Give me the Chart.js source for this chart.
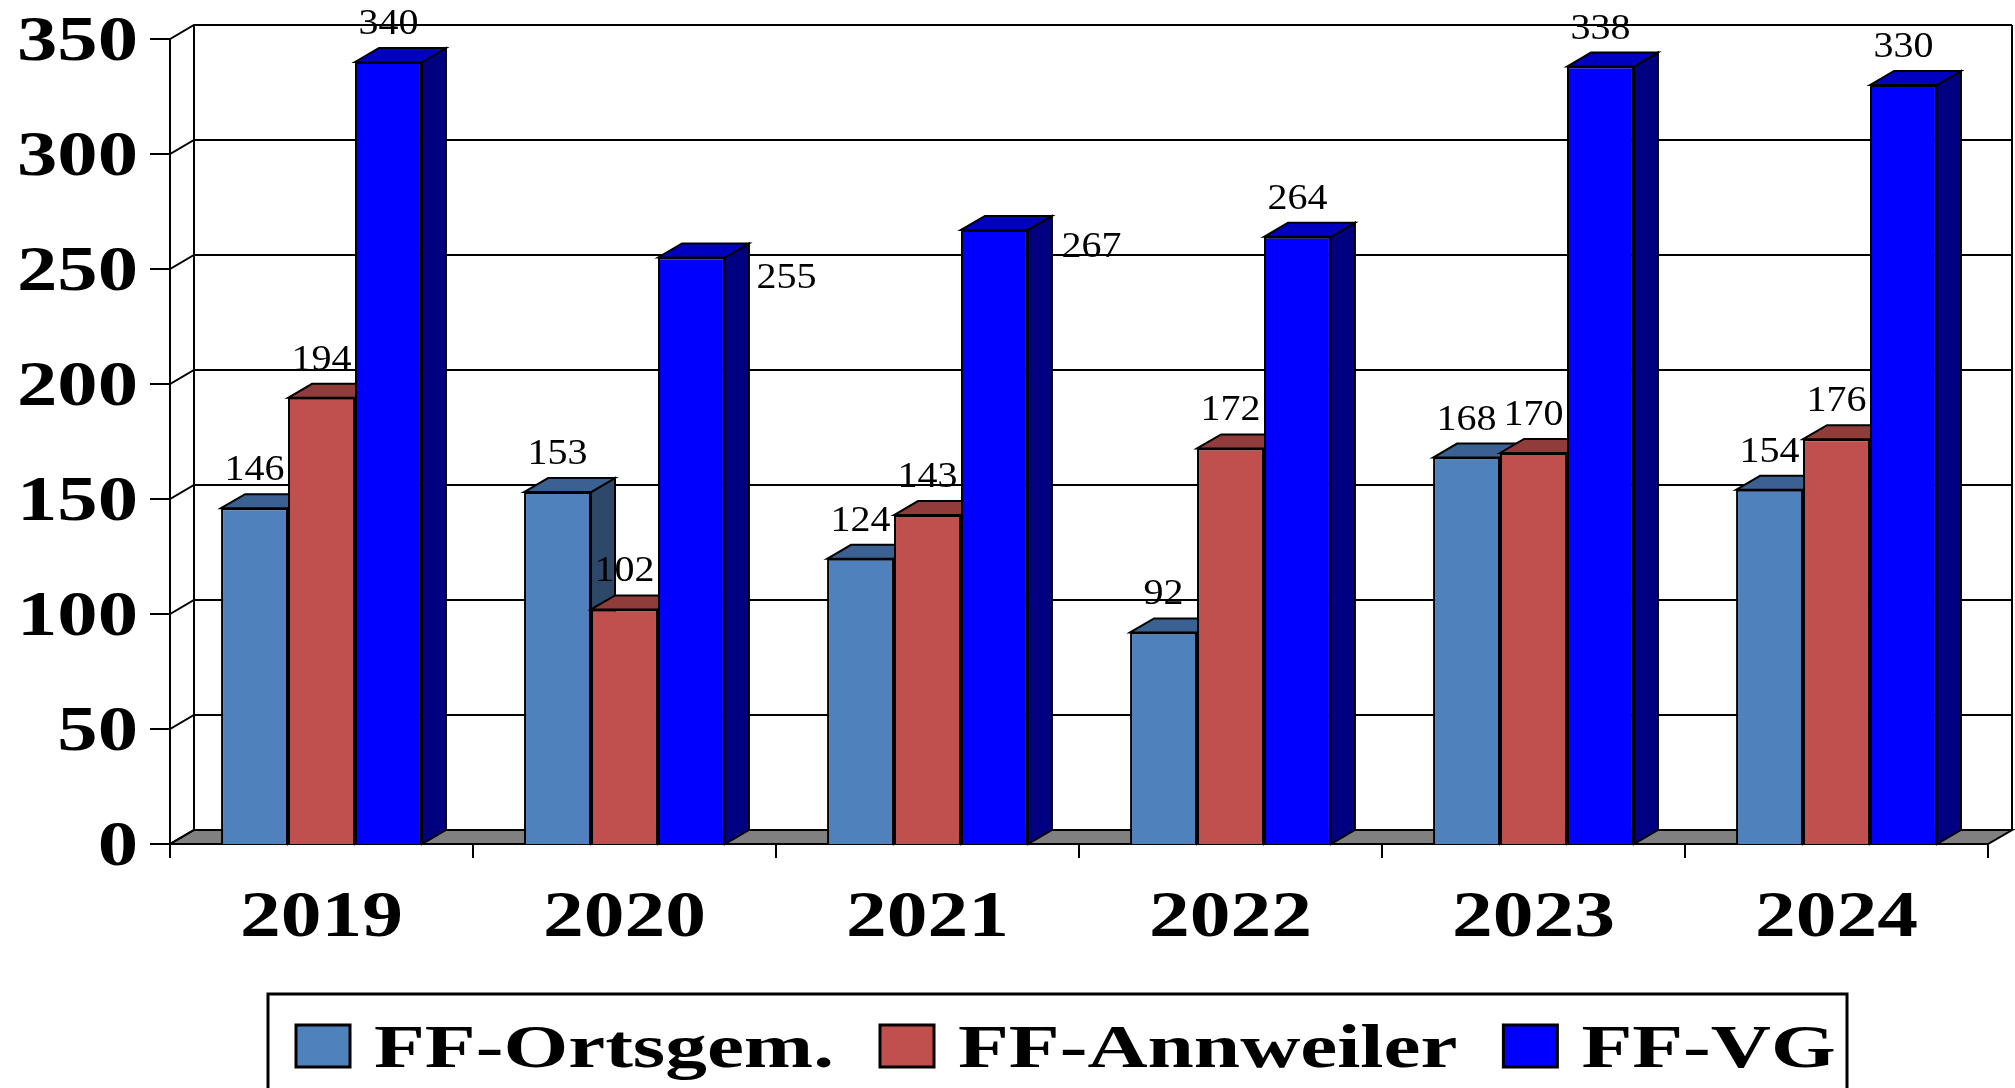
<!DOCTYPE html>
<html>
<head>
<meta charset="utf-8">
<script src="https://cdn.jsdelivr.net/npm/chart.js@4/dist/chart.umd.min.js"></script>
<style>
  body { margin: 0; background: #fff; }
  canvas { display: block; }
</style>
</head>
<body>
<canvas id="einsatzChart" width="2015" height="1088"></canvas>
<script>
// data
const years = ['2019', '2020', '2021', '2022', '2023', '2024'];
const ortsgemeinden = [146, 153, 124, 92, 168, 154];
const annweiler = [194, 102, 143, 172, 170, 176];
const verbandsgemeinde = [340, 255, 267, 264, 338, 330];
const yTicks = [0, 50, 100, 150, 200, 250, 300, 350];
const seriesNames = ['FF-Ortsgem.', 'FF-Annweiler', 'FF-VG'];

// depth of the fake 3d effect
const DEPTH_X = 24;
const DEPTH_Y = 14;

// pick a Times-like font that is really installed
function fontAvailable(name) {
    const c = document.createElement('canvas').getContext('2d');
    const probe = 'FF-Ortsgem. 0123456789';
    c.font = '40px monospace';
    const a = c.measureText(probe).width;
    c.font = '40px "' + name + '", monospace';
    const b = c.measureText(probe).width;
    return a !== b;
}
const serifCandidates = ['Liberation Serif', 'Times New Roman', 'Tinos', 'Nimbus Roman', 'FreeSerif', 'Noto Serif', 'DejaVu Serif'];
const serifName = serifCandidates.find(fontAvailable) || 'serif';
const FONT = '"' + serifName + '", serif';
// DejaVu has taller digits, shrink it a bit so the heights match
const SIZE = serifName.indexOf('DejaVu') === 0 || serifName.indexOf('Noto') === 0 ? 0.93 : 1;

// draw text stretched (or squeezed) to a given scale
function wideText(ctx, text, x, y, sx, align) {
    const w = ctx.measureText(text).width * sx;
    let left = x;
    if (align === 'right') left = x - w;
    if (align === 'center') left = x - w / 2;
    ctx.save();
    ctx.translate(left, y);
    ctx.scale(sx, 1);
    ctx.textAlign = 'left';
    ctx.fillText(text, 0, 0);
    ctx.restore();
    return w;
}

// horizontal scale that makes a sample string as wide as in the picture
function fitScale(ctx, sample, targetWidth) {
    return targetWidth / ctx.measureText(sample).width;
}

function poly(ctx, pts) {
    ctx.beginPath();
    ctx.moveTo(pts[0][0], pts[0][1]);
    pts.slice(1).forEach(p => ctx.lineTo(p[0], p[1]));
    ctx.closePath();
    ctx.fill();
    ctx.stroke();
}

// floor, walls, gridlines and axes
const wallsPlugin = {
    id: 'walls',
    beforeDatasetsDraw(chart) {
        const { ctx, chartArea: a, scales: { x, y } } = chart;
        ctx.save();
        ctx.strokeStyle = '#000';
        ctx.lineWidth = 2;

        // grey floor
        ctx.fillStyle = '#808080';
        poly(ctx, [[a.left, a.bottom], [a.right, a.bottom],
            [a.right + DEPTH_X, a.bottom - DEPTH_Y], [a.left + DEPTH_X, a.bottom - DEPTH_Y]]);

        // gridlines on back wall, diagonals on side wall, tick marks
        yTicks.forEach(v => {
            const py = y.getPixelForValue(v);
            ctx.beginPath();
            ctx.moveTo(a.left - 20, py);
            ctx.lineTo(a.left, py);
            ctx.lineTo(a.left + DEPTH_X, py - DEPTH_Y);
            ctx.lineTo(a.right + DEPTH_X, py - DEPTH_Y);
            ctx.stroke();
        });

        const top = y.getPixelForValue(yTicks[yTicks.length - 1]);
        ctx.beginPath();
        ctx.moveTo(a.left, top);
        ctx.lineTo(a.left, a.bottom);
        ctx.moveTo(a.left + DEPTH_X, top - DEPTH_Y);
        ctx.lineTo(a.left + DEPTH_X, a.bottom - DEPTH_Y);
        ctx.moveTo(a.right + DEPTH_X, top - DEPTH_Y);
        ctx.lineTo(a.right + DEPTH_X, a.bottom - DEPTH_Y);
        ctx.stroke();

        // category tick marks below the front edge
        const half = (x.getPixelForValue(1) - x.getPixelForValue(0)) / 2;
        ctx.beginPath();
        for (let i = 0; i <= years.length; i++) {
            const px = x.getPixelForValue(i) - half;
            ctx.moveTo(px, a.bottom);
            ctx.lineTo(px, a.bottom + 14);
        }
        ctx.moveTo(a.left, a.bottom);
        ctx.lineTo(a.right, a.bottom);
        ctx.stroke();
        ctx.restore();
    }
};

// bars with top and side faces, drawn left to right so they hide each other properly
const barsPlugin = {
    id: 'bars3d',
    beforeDatasetsDraw(chart, args, opts) {
        const ctx = chart.ctx;
        chart.data.datasets.forEach((ds, di) => {
            const meta = chart.getDatasetMeta(di);
            ctx.save();
            ctx.strokeStyle = '#000';
            ctx.lineWidth = 2;
            meta.data.forEach(bar => {
                const l = bar.x - bar.width / 2;
                const r = bar.x + bar.width / 2;
                ctx.fillStyle = ds.sideColor;
                poly(ctx, [[r, bar.y], [r + DEPTH_X, bar.y - DEPTH_Y],
                    [r + DEPTH_X, bar.base - DEPTH_Y], [r, bar.base]]);
                ctx.fillStyle = ds.topColor;
                poly(ctx, [[l, bar.y], [l + DEPTH_X, bar.y - DEPTH_Y],
                    [r + DEPTH_X, bar.y - DEPTH_Y], [r, bar.y]]);
            });
            ctx.restore();

            meta.data.forEach(bar => bar.draw(ctx, chart.chartArea));

            // value labels
            ctx.save();
            ctx.fillStyle = '#000';
            ctx.font = Math.round(35 * SIZE) + 'px ' + FONT;
            const sx = fitScale(ctx, '340', 60);
            meta.data.forEach((bar, i) => {
                const nudge = opts.nudge[di + ':' + i] || [0, 0];
                wideText(ctx, String(ds.data[i]), bar.x + nudge[0],
                    bar.y - DEPTH_Y - 14 + nudge[1], sx, 'center');
            });
            ctx.restore();
        });
    },
    // bars are already painted above
    beforeDatasetDraw() {
        return false;
    }
};

// axis labels and legend
const textPlugin = {
    id: 'texts',
    afterDraw(chart) {
        const { ctx, scales: { x, y } } = chart;
        ctx.save();
        ctx.fillStyle = '#000';

        ctx.font = 'bold ' + Math.round(64 * SIZE) + 'px ' + FONT;
        const sxY = fitScale(ctx, '350', 121);
        yTicks.forEach(v => {
            wideText(ctx, String(v), 138, y.getPixelForValue(v) + 21, sxY, 'right');
        });

        ctx.font = 'bold ' + Math.round(65 * SIZE) + 'px ' + FONT;
        const sxX = fitScale(ctx, '2019', 163);
        years.forEach((yr, i) => {
            wideText(ctx, yr, x.getPixelForValue(i), 936, sxX, 'center');
        });

        // legend box
        ctx.strokeStyle = '#000';
        ctx.lineWidth = 3;
        ctx.strokeRect(268, 994, 1579, 200);

        ctx.font = 'bold ' + Math.round(62 * SIZE) + 'px ' + FONT;
        const sxL = fitScale(ctx, seriesNames[0], 460);
        let lx = 296;
        chart.data.datasets.forEach(ds => {
            ctx.fillStyle = ds.backgroundColor;
            ctx.fillRect(lx, 1025, 54, 42);
            ctx.strokeRect(lx, 1025, 54, 42);
            ctx.fillStyle = '#000';
            const w = wideText(ctx, ds.label, lx + 78, 1067, sxL, 'left');
            lx += 78 + w + 46;
        });
        ctx.restore();
    }
};

const chartConfig = {
    type: 'bar',
    data: {
        labels: years,
        datasets: [
            {
                label: seriesNames[0],
                data: ortsgemeinden,
                backgroundColor: '#4F81BD',
                topColor: '#3A6191',
                sideColor: '#2D4869',
                borderColor: '#000',
                borderWidth: 2
            },
            {
                label: seriesNames[1],
                data: annweiler,
                backgroundColor: '#C0504D',
                topColor: '#8F3C3A',
                sideColor: '#7A302E',
                borderColor: '#000',
                borderWidth: 2
            },
            {
                label: seriesNames[2],
                data: verbandsgemeinde,
                backgroundColor: '#0000FF',
                topColor: '#0000C0',
                sideColor: '#000080',
                borderColor: '#000',
                borderWidth: 2
            }
        ]
    },
    options: {
        responsive: false,
        animation: false,
        devicePixelRatio: 1,
        categoryPercentage: 0.663,
        barPercentage: 1.0,
        layout: {
            padding: { left: 170, right: 27, top: 39, bottom: 244 }
        },
        plugins: {
            legend: { display: false },
            tooltip: { enabled: false },
            bars3d: {
                // the two labels Excel pushed off to the right
                nudge: { '2:1': [95, 58], '2:2': [97, 55] }
            }
        },
        scales: {
            x: { display: false },
            y: { display: false, min: 0, max: 350 }
        }
    },
    plugins: [wallsPlugin, barsPlugin, textPlugin]
};

const ctx = document.getElementById('einsatzChart');
const einsatzChart = new Chart(ctx, chartConfig);
</script>
</body>
</html>
